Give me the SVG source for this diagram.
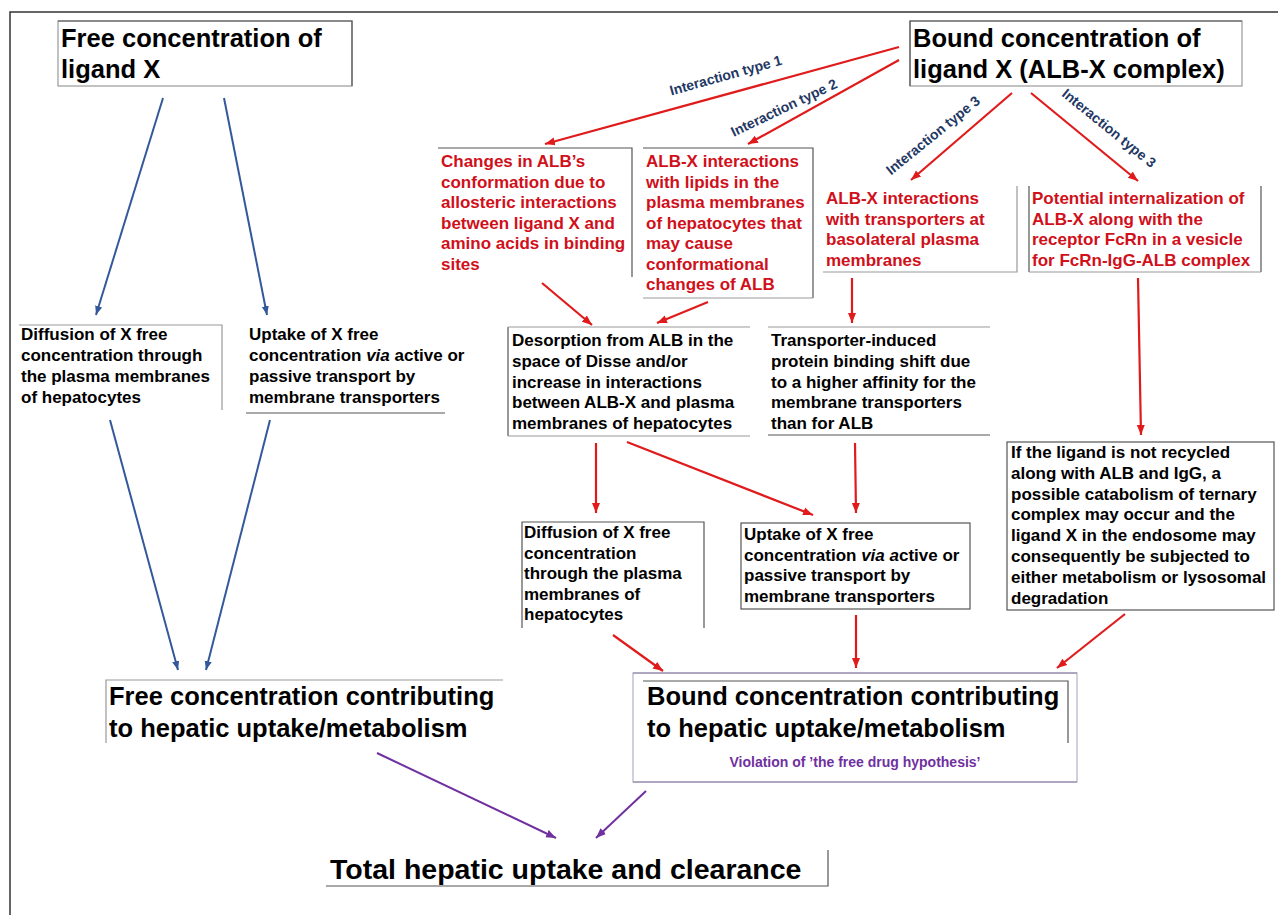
<svg xmlns="http://www.w3.org/2000/svg" width="1278" height="915" viewBox="0 0 1278 915">
<defs>
<style>
text{font-family:"Liberation Sans",Arial,sans-serif;font-weight:bold}
.big{font-size:25.5px;fill:#000}
.blk{font-size:17px;fill:#000}
.red{font-size:17px;fill:#d0101a}
.lbl{font-size:14px;fill:#1f3864}
.vio{font-size:14px;fill:#7030a0}
.tot{font-size:28.5px;fill:#000}
.bd{fill:none;stroke:#555;stroke-width:1.2}
.bl{fill:none;stroke:#999;stroke-width:1.2}
.ra{stroke:#e01b1b;stroke-width:2.2;fill:none;marker-end:url(#mr)}
.ba{stroke:#34599a;stroke-width:2;fill:none;marker-end:url(#mb)}
.pa{stroke:#7030a0;stroke-width:2;fill:none;marker-end:url(#mp)}
</style>
<marker id="mr" viewBox="0 0 10 10" refX="10" refY="5" markerWidth="10" markerHeight="10" markerUnits="userSpaceOnUse" orient="auto"><path d="M0,1 L10,5 L0,9 z" fill="#e01b1b"/></marker>
<marker id="mb" viewBox="0 0 10 10" refX="10" refY="5" markerWidth="9" markerHeight="9" markerUnits="userSpaceOnUse" orient="auto"><path d="M0,1 L10,5 L0,9 z" fill="#34599a"/></marker>
<marker id="mp" viewBox="0 0 10 10" refX="10" refY="5" markerWidth="10" markerHeight="10" markerUnits="userSpaceOnUse" orient="auto"><path d="M0,1 L10,5 L0,9 z" fill="#7030a0"/></marker>
</defs>
<rect width="1278" height="915" fill="#fff"/>
<path d="M10,915 V12 H1278" fill="none" stroke="#333" stroke-width="1.5"/>

<g id="connectors">
<line class="ra" x1="899" y1="47" x2="545" y2="144"/>
<line class="ra" x1="899" y1="60" x2="748" y2="144"/>
<line class="ra" x1="1012" y1="93" x2="911" y2="180"/>
<line class="ra" x1="1031" y1="93" x2="1138" y2="181"/>
<line class="ba" x1="163" y1="98" x2="96" y2="315"/>
<line class="ba" x1="224" y1="98" x2="267" y2="315"/>
<line class="ba" x1="110" y1="420" x2="178" y2="670"/>
<line class="ba" x1="270" y1="420" x2="206" y2="670"/>
<line class="ra" x1="542" y1="283" x2="592" y2="325"/>
<line class="ra" x1="708" y1="302" x2="657" y2="323"/>
<line class="ra" x1="852" y1="278" x2="852" y2="323"/>
<line class="ra" x1="1138" y1="278" x2="1141" y2="435"/>
<line class="ra" x1="596" y1="443" x2="596" y2="513"/>
<line class="ra" x1="627" y1="442" x2="813" y2="515"/>
<line class="ra" x1="855" y1="443" x2="856" y2="513"/>
<line class="ra" x1="613" y1="635" x2="663" y2="671"/>
<line class="ra" x1="856" y1="615" x2="856" y2="668"/>
<line class="ra" x1="1125" y1="614" x2="1057" y2="668"/>
<line class="pa" x1="377" y1="753" x2="556" y2="838"/>
<line class="pa" x1="646" y1="791" x2="596" y2="838"/>
<text class="lbl" x="727" y="80" text-anchor="middle" transform="rotate(-15.5 727 80)">Interaction type 1</text>
<text class="lbl" x="786" y="112" text-anchor="middle" transform="rotate(-25.5 786 112)">Interaction type 2</text>
<text class="lbl" x="936" y="139" text-anchor="middle" transform="rotate(-39 936 139)">Interaction type 3</text>
<text class="lbl" x="1106" y="132" text-anchor="middle" transform="rotate(39 1106 132)">Interaction type 3</text>
</g>

<g id="free">
<rect class="bl" x="58" y="21" width="294" height="65"/>
<path class="bd" d="M58,21 H352 V86"/>
<text class="big" x="61"><tspan x="61" y="47">Free concentration of</tspan><tspan x="61" y="78">ligand X</tspan></text>
</g>

<g id="bound">
<rect class="bl" x="910" y="21" width="332" height="65"/>
<path class="bd" d="M910,86 V21 H1242"/>
<text class="big" x="913"><tspan x="913" y="47">Bound concentration of</tspan><tspan x="913" y="78">ligand X (ALB-X complex)</tspan></text>
</g>

<g id="type1">
<path class="bd" d="M438,148 H632 V277"/>
<text class="red"><tspan x="441" y="167">Changes in ALB’s</tspan><tspan x="441" y="187.5">conformation due to</tspan><tspan x="441" y="208">allosteric interactions</tspan><tspan x="441" y="228.5">between ligand X and</tspan><tspan x="441" y="249">amino acids in binding</tspan><tspan x="441" y="269.5">sites</tspan></text>
</g>

<g id="type2">
<path class="bd" d="M643,148 H813 V298"/>
<path class="bl" d="M643,298 H813"/>
<text class="red"><tspan x="646" y="167">ALB-X interactions</tspan><tspan x="646" y="187.5">with lipids in the</tspan><tspan x="646" y="208">plasma membranes</tspan><tspan x="646" y="228.5">of hepatocytes that</tspan><tspan x="646" y="249">may cause</tspan><tspan x="646" y="269.5">conformational</tspan><tspan x="646" y="290">changes of ALB</tspan></text>
</g>

<g id="type3a">
<path class="bl" d="M823,272 H1017 V186"/>
<text class="red"><tspan x="826" y="204">ALB-X interactions</tspan><tspan x="826" y="224.5">with transporters at</tspan><tspan x="826" y="245">basolateral plasma</tspan><tspan x="826" y="265.5">membranes</tspan></text>
</g>

<g id="type3b">
<path class="bd" d="M1029,186 V272 M1261,186 V272"/>
<path class="bl" d="M1029,272 H1261"/>
<text class="red"><tspan x="1032" y="204">Potential internalization of</tspan><tspan x="1032" y="224.5">ALB-X along with the</tspan><tspan x="1032" y="245">receptor FcRn in a vesicle</tspan><tspan x="1032" y="265.5">for FcRn-IgG-ALB complex</tspan></text>
</g>

<g id="diffusion1">
<path class="bl" d="M19,325 H222 V410"/>
<text class="blk"><tspan x="21" y="340">Diffusion of X free</tspan><tspan x="21" y="361">concentration through</tspan><tspan x="21" y="382">the plasma membranes</tspan><tspan x="21" y="403">of hepatocytes</tspan></text>
</g>

<g id="uptake1">
<path class="bd" d="M246,413 H445"/>
<text class="blk"><tspan x="249" y="340">Uptake of X free</tspan><tspan x="249" y="361">concentration <tspan font-style="italic">via</tspan> active or</tspan><tspan x="249" y="382">passive transport by</tspan><tspan x="249" y="403">membrane transporters</tspan></text>
</g>

<g id="desorption">
<path class="bd" d="M508,327 V436"/>
<path class="bl" d="M508,327 H750 M508,436 H750"/>
<text class="blk"><tspan x="512" y="346">Desorption from ALB in the</tspan><tspan x="512" y="366.75">space of Disse and/or</tspan><tspan x="512" y="387.5">increase in interactions</tspan><tspan x="512" y="408.25">between ALB-X and plasma</tspan><tspan x="512" y="429">membranes of hepatocytes</tspan></text>
</g>

<g id="shift">
<path class="bl" d="M768,327 H990"/>
<path class="bd" d="M768,435 H990"/>
<text class="blk"><tspan x="771" y="346">Transporter-induced</tspan><tspan x="771" y="366.75">protein binding shift due</tspan><tspan x="771" y="387.5">to a higher affinity for the</tspan><tspan x="771" y="408.25">membrane transporters</tspan><tspan x="771" y="429">than for ALB</tspan></text>
</g>

<g id="catabolism">
<rect class="bd" x="1007" y="442" width="267" height="168"/>
<text class="blk"><tspan x="1011" y="458">If the ligand is not recycled</tspan><tspan x="1011" y="478.8">along with ALB and IgG, a</tspan><tspan x="1011" y="499.6">possible catabolism of ternary</tspan><tspan x="1011" y="520.4">complex may occur and the</tspan><tspan x="1011" y="541.2">ligand X in the endosome may</tspan><tspan x="1011" y="562">consequently be subjected to</tspan><tspan x="1011" y="582.8">either metabolism or lysosomal</tspan><tspan x="1011" y="603.6">degradation</tspan></text>
</g>

<g id="diffusion2">
<path class="bd" d="M522,628 V522 H704 V628"/>
<text class="blk"><tspan x="524" y="538">Diffusion of X free</tspan><tspan x="524" y="558.5">concentration</tspan><tspan x="524" y="579">through the plasma</tspan><tspan x="524" y="599.5">membranes of</tspan><tspan x="524" y="620">hepatocytes</tspan></text>
</g>

<g id="uptake2">
<rect class="bd" x="741" y="523" width="229" height="86"/>
<text class="blk"><tspan x="744" y="540">Uptake of X free</tspan><tspan x="744" y="560.7">concentration <tspan font-style="italic">via a</tspan>ctive or</tspan><tspan x="744" y="581.4">passive transport by</tspan><tspan x="744" y="602">membrane transporters</tspan></text>
</g>

<g id="freecontrib">
<path class="bl" d="M106,743 V680 H503"/>
<text class="big"><tspan x="109" y="705">Free concentration contributing</tspan><tspan x="109" y="737">to hepatic uptake/metabolism</tspan></text>
</g>

<g id="boundcontrib">
<rect x="633" y="673" width="444" height="109" fill="none" stroke="#b8b0c8" stroke-width="1.2"/>
<path d="M633,673 H1077 M633,782 H1077" fill="none" stroke="#8a7fa0" stroke-width="1.2"/>
<path class="bd" d="M643,681 H1068 V743"/>
<text class="big"><tspan x="647" y="705">Bound concentration contributing</tspan><tspan x="647" y="737">to hepatic uptake/metabolism</tspan></text>
<text class="vio" x="855" y="767" text-anchor="middle">Violation of ’the free drug hypothesis’</text>
</g>

<g id="total">
<path class="bd" d="M326,886 H828 V850"/>
<text class="tot" x="330" y="879">Total hepatic uptake and clearance</text>
</g>
</svg>
